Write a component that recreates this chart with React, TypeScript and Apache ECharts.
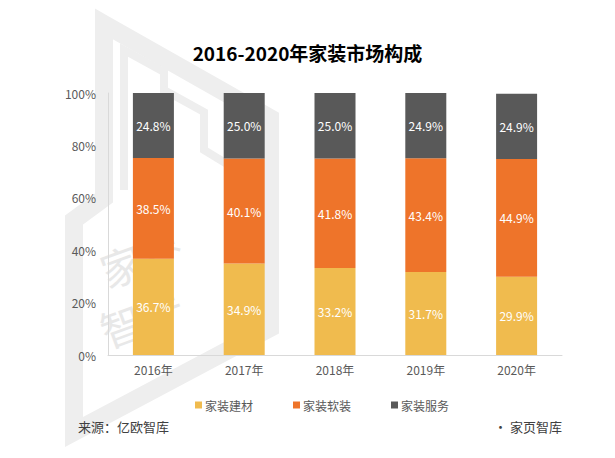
import React, { useEffect, useRef } from "react";
import * as echarts from "echarts";

const categories = ["2016年", "2017年", "2018年", "2019年", "2020年"];
const seriesNames = ["家装建材", "家装软装", "家装服务"];
const buildingMaterials = [36.7, 34.9, 33.2, 31.7, 29.9];
const softFurnishing = [38.5, 40.1, 41.8, 43.4, 44.9];
const services = [24.8, 25.0, 25.0, 24.9, 24.9];
const yTicks = [0, 20, 40, 60, 80, 100];
const colors = ["#F0BB4E", "#EE742A", "#595959"];

export default function App() {
  const ref = useRef<HTMLDivElement>(null);
  useEffect(() => {
    document.body.style.margin = "0";
    const chart = echarts.init(ref.current!, null, { renderer: "svg" });
    const wm = "#EEEEEE";
    const font = '"Noto Sans CJK SC", "Noto Sans", sans-serif';
    const mk = (name: string, data: number[], i: number) => ({
      name,
      type: "bar",
      stack: "total",
      data,
      barWidth: 41,
      itemStyle: { color: colors[i] },
      label: {
        show: true,
        position: "inside",
        color: "#ffffff",
        fontSize: 12,
        fontFamily: font,
        formatter: (p: any) => p.value.toFixed(1) + "%",
      },
    });
    chart.setOption({
      animation: false,
      textStyle: { fontFamily: font },
      title: {
        text: "2016-2020年家装市场构成",
        left: "center",
        top: 38,
        textStyle: { fontSize: 19, fontWeight: "bold", color: "#000000", fontFamily: font },
      },
      grid: { left: 108, right: 53, top: 93, bottom: 103 },
      legend: {
        data: seriesNames,
        left: 190,
        top: 394,
        itemWidth: 7,
        itemHeight: 7,
        itemGap: 40,
        icon: "rect",
        textStyle: { color: "#595959", fontSize: 12, fontFamily: font, padding: [0, 0, 0, -2] },
      },
      xAxis: {
        type: "category",
        data: categories,
        axisLine: { lineStyle: { color: "#D9D9D9" } },
        axisTick: { show: false },
        axisLabel: { color: "#595959", fontSize: 12, margin: 8 },
      },
      yAxis: {
        type: "value",
        min: yTicks[0],
        max: yTicks[yTicks.length - 1],
        interval: 20,
        axisLine: { show: true, lineStyle: { color: "#D9D9D9" } },
        axisTick: { show: false },
        splitLine: { show: false },
        axisLabel: { color: "#595959", fontSize: 12, margin: 12, formatter: "{value}%" },
      },
      graphic: [
        {
          type: "polygon",
          z: 0,
          silent: true,
          shape: {
            points: [
              [104, 24],
              [270, 118],
              [270, 328],
              [74, 432],
              [74, 220],
              [104, 198],
            ],
          },
          style: { fill: "none", stroke: wm, lineWidth: 18, lineJoin: "miter" },
        },
        {
          type: "polyline",
          z: 0,
          silent: true,
          shape: { points: [[124, 190], [124, 50], [164, 72], [164, 160]] },
          style: { fill: "none", stroke: wm, lineWidth: 8 },
        },
        {
          type: "polyline",
          z: 0,
          silent: true,
          shape: { points: [[164, 90], [204, 112], [204, 150], [250, 178]] },
          style: { fill: "none", stroke: wm, lineWidth: 8 },
        },
        {
          type: "text",
          z: 0,
          silent: true,
          x: 94,
          y: 252,
          rotation: 0.35,
          style: { text: "家", fill: "#E8E8E8", fontSize: 42, fontFamily: font },
        },
        {
          type: "text",
          z: 0,
          silent: true,
          x: 130,
          y: 224,
          rotation: 0.35,
          style: { text: "页", fill: "#E8E8E8", fontSize: 42, fontFamily: font },
        },
        {
          type: "text",
          z: 0,
          silent: true,
          x: 94,
          y: 312,
          rotation: 0.35,
          style: { text: "智", fill: "#E8E8E8", fontSize: 42, fontFamily: font },
        },
        {
          type: "text",
          z: 0,
          silent: true,
          x: 130,
          y: 286,
          rotation: 0.35,
          style: { text: "库", fill: "#E8E8E8", fontSize: 42, fontFamily: font },
        },
        {
          type: "text",
          z: 10,
          left: 78,
          top: 420,
          style: { text: "来源：亿欧智库", fill: "#404040", fontSize: 13, fontFamily: font },
        },
        {
          type: "text",
          z: 10,
          left: 494,
          top: 420,
          style: { text: "· 家页智库", fill: "#404040", fontSize: 13, fontFamily: font },
        },
      ],
      series: [
        mk(seriesNames[0], buildingMaterials, 0),
        mk(seriesNames[1], softFurnishing, 1),
        mk(seriesNames[2], services, 2),
      ],
    });
    return () => chart.dispose();
  }, []);
  return <div ref={ref} style={{ width: 615, height: 458 }} />;
}
